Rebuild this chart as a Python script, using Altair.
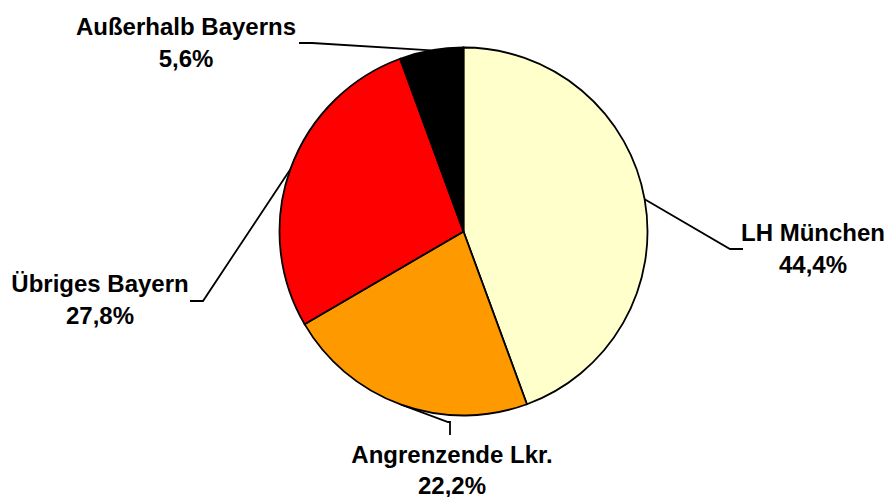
import math
import altair as alt
import pandas as pd

# ---- data ----
categories = ["LH München", "Angrenzende Lkr.", "Übriges Bayern", "Außerhalb Bayerns"]
shares = [44.4, 22.2, 27.8, 5.6]
colors = ["#FFFFCC", "#FF9900", "#FF0000", "#000000"]

# ---- layout (chart pixel coordinates) ----
W, H = 876, 489
CX, CY, R = 455.5, 223.5, 184
FONT = "Liberation Sans"
FS = 24
# label anchor: (center x, baseline of first line, gap to second line)
label_anchor = {
    "LH München": (805, 233, 32),
    "Angrenzende Lkr.": (444, 455, 31),
    "Übriges Bayern": (92, 284, 32),
    "Außerhalb Bayerns": (178, 27, 32),
}
# leader line: elbow and end points
leader = {
    "LH München": [(722, 241), (735, 241)],
    "Angrenzende Lkr.": [(440, 414), (442, 414), (442, 427)],
    "Übriges Bayern": [(195, 293), (182, 293)],
    "Außerhalb Bayerns": [(304, 35), (291, 35)],
}

df = pd.DataFrame({"cat": categories, "share": shares, "idx": range(len(categories))})

# leader lines start at the mid-angle of each slice on the circle
rows_line, rows_text = [], []
cum = 0.0
total = sum(shares)
for c, s in zip(categories, shares):
    mid = (cum + s / 2) / total * 2 * math.pi
    cum += s
    sx = CX + R * math.sin(mid)
    sy = CY - R * math.cos(mid)
    pts = [(sx, sy)] + leader[c]
    for k, (px, py) in enumerate(pts):
        rows_line.append({"cat": c, "px": px, "py": py, "k": k})
    ax, ay, gap = label_anchor[c]
    pct = f"{s:.1f}".replace(".", ",") + "%"
    rows_text.append({"cat": c, "px": ax, "py": ay, "t": c})
    rows_text.append({"cat": c, "px": ax, "py": ay + gap, "t": pct})

lines_df = pd.DataFrame(rows_line)
text_df = pd.DataFrame(rows_text)

xs = alt.Scale(domain=[0, W], nice=False, zero=False)
ys = alt.Scale(domain=[H, 0], nice=False, zero=False)

pie = alt.Chart(df).mark_arc(radius=R, stroke="black", strokeWidth=1.8).encode(
    theta=alt.Theta("share:Q", stack=True),
    color=alt.Color("cat:N", scale=alt.Scale(domain=categories, range=colors), legend=None),
    order=alt.Order("idx:Q"),
    x=alt.value(CX),
    y=alt.value(CY),
)

lines = alt.Chart(lines_df).mark_line(color="black", strokeWidth=1.8).encode(
    x=alt.X("px:Q", scale=xs, axis=None),
    y=alt.Y("py:Q", scale=ys, axis=None),
    detail="cat:N",
    order="k:Q",
)

texts = alt.Chart(text_df).mark_text(
    font=FONT, fontSize=FS, fontWeight="bold", color="black", align="center", baseline="alphabetic"
).encode(
    x=alt.X("px:Q", scale=xs, axis=None),
    y=alt.Y("py:Q", scale=ys, axis=None),
    text="t:N",
)

chart = alt.layer(lines, pie, texts).properties(
    width=W, height=H, padding=0, autosize="none", background="white"
).configure_view(stroke=None, strokeWidth=0)

chart.save("out.html", embed_options={"renderer": "svg", "actions": False})
